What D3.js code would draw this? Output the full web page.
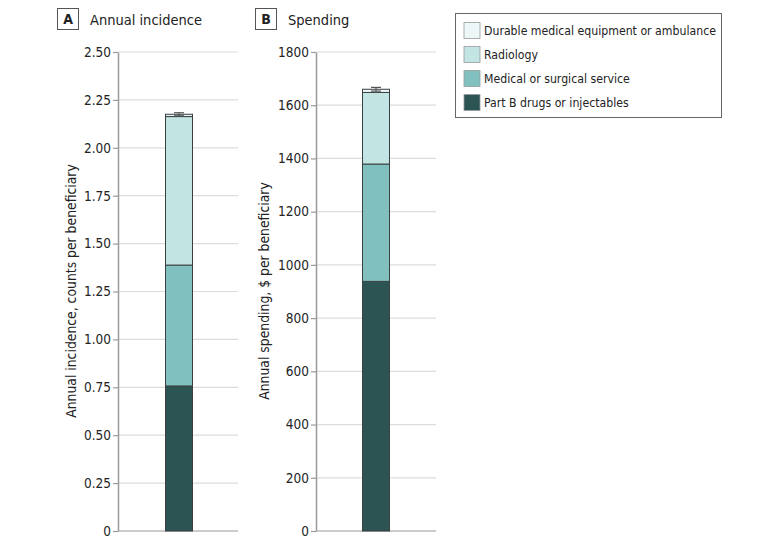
<!DOCTYPE html>
<html><head><meta charset="utf-8">
<script src="https://cdn.jsdelivr.net/npm/d3@7"></script>
<style>
body{margin:0;background:#fff;}
text{font-family:"DejaVu Sans Condensed","Liberation Sans Narrow","Roboto",sans-serif;fill:#222;}
</style></head>
<body><svg id="c" width="780" height="551"></svg>
<script>
const categories = ["Part B drugs or injectables","Medical or surgical service","Radiology","Durable medical equipment or ambulance"];
const colors = ["#2b5452","#80c1bf","#c2e5e4","#eef7f7"];
const incidenceValues = [0.757, 0.631, 0.775, 0.012];
const incidenceError = 0.008;
const spendingValues = [938, 441, 269, 12];
const spendingError = 7;
const incidenceTicks = [0,0.25,0.5,0.75,1.0,1.25,1.5,1.75,2.0,2.25,2.5];
const spendingTicks = [0,200,400,600,800,1000,1200,1400,1600,1800];

const svg = d3.select("#c");

function panel(opts){
  const g = svg.append("g");
  const y = d3.scaleLinear().domain(opts.domain).range([531,52]);
  g.selectAll(".grid").data(opts.ticks).join("line")
    .attr("x1",opts.x0).attr("x2",opts.x1)
    .attr("y1",d=>y(d)).attr("y2",d=>y(d))
    .attr("stroke",d=>d===0?"#9a9a9a":"#dcdcdc").attr("stroke-width",1.2);
  const ax = d3.axisLeft(y).tickValues(opts.ticks).tickFormat(opts.fmt).tickSize(5).tickSizeOuter(0);
  const a = g.append("g").attr("transform",`translate(${opts.x0},0)`).call(ax);
  a.select(".domain").attr("stroke","#9a9a9a").attr("stroke-width",1.5);
  a.selectAll(".tick line").attr("stroke","#9a9a9a").attr("stroke-width",1.2);
  a.selectAll(".tick text").attr("font-size",13.5).attr("fill","#222").attr("x",-7)
    .style("font-family",'"DejaVu Sans Condensed",sans-serif');
  const stackData = [Object.fromEntries(categories.map((c,i)=>[c,opts.values[i]]))];
  const series = d3.stack().keys(categories)(stackData);
  const cx = (opts.x0+opts.x1)/2;
  const bw = 27;
  const bx = d3.scaleLinear().domain([0,1]).range([cx - bw/2 + opts.barShift, cx + bw/2 + opts.barShift]);
  g.selectAll(".seg").data(series).join("rect")
    .attr("x",bx(0)).attr("width",bx(1)-bx(0))
    .attr("y",d=>y(d[0][1])).attr("height",d=>y(d[0][0])-y(d[0][1]))
    .attr("fill",(d,i)=>colors[i]).attr("stroke","#3a3f40").attr("stroke-width",1);
  const total = d3.sum(opts.values);
  const eb = g.append("g").attr("stroke","#555").attr("stroke-width",1.2);
  const ecx = (bx(0)+bx(1))/2;
  eb.append("line").attr("x1",ecx).attr("x2",ecx).attr("y1",y(total+opts.err)).attr("y2",y(total-opts.err));
  eb.append("line").attr("x1",ecx-5).attr("x2",ecx+5).attr("y1",y(total+opts.err)).attr("y2",y(total+opts.err));
  eb.append("line").attr("x1",ecx-5).attr("x2",ecx+5).attr("y1",y(total-opts.err)).attr("y2",y(total-opts.err));
  g.append("rect").attr("x",opts.lx+0.5).attr("y",8.5).attr("width",21).attr("height",21)
    .attr("fill","#fff").attr("stroke","#555").attr("stroke-width",1);
  g.append("text").attr("x",opts.lx+11).attr("y",24).attr("text-anchor","middle")
    .attr("font-size",14).attr("font-weight","bold").text(opts.letter);
  g.append("text").attr("x",opts.lx+33).attr("y",25).attr("font-size",14.5).text(opts.title);
  g.append("text").attr("transform",`translate(${opts.ylx},291) rotate(-90)`)
    .attr("text-anchor","middle").attr("font-size",13.8).text(opts.ylabel);
}

panel({domain:[0,2.5],ticks:incidenceTicks,fmt:d=>d===0?"0":d3.format(".2f")(d),
  x0:118,x1:238,values:incidenceValues,err:incidenceError,barShift:1,
  lx:57,letter:"A",title:"Annual incidence",ylx:76,ylabel:"Annual incidence, counts per beneficiary"});
panel({domain:[0,1800],ticks:spendingTicks,fmt:d=>String(d),
  x0:316,x1:436,values:spendingValues,err:spendingError,barShift:0,
  lx:255,letter:"B",title:"Spending",ylx:269,ylabel:"Annual spending, $ per beneficiary"});

const lg = svg.append("g");
lg.append("rect").attr("x",455.5).attr("y",13.5).attr("width",266).attr("height",104)
  .attr("fill","#fff").attr("stroke","#666").attr("stroke-width",1);
const legendOrder = categories.slice().reverse();
const ly = d3.scalePoint().domain(legendOrder).range([30,102]);
legendOrder.forEach(c=>{
  const i = categories.indexOf(c);
  lg.append("rect").attr("x",464).attr("y",ly(c)-7.5).attr("width",16).attr("height",16)
    .attr("fill",colors[i]).attr("stroke","#999").attr("stroke-width",0.8);
  lg.append("text").attr("x",484).attr("y",ly(c)+5).attr("font-size",12.2).text(c);
});
</script></body></html>
